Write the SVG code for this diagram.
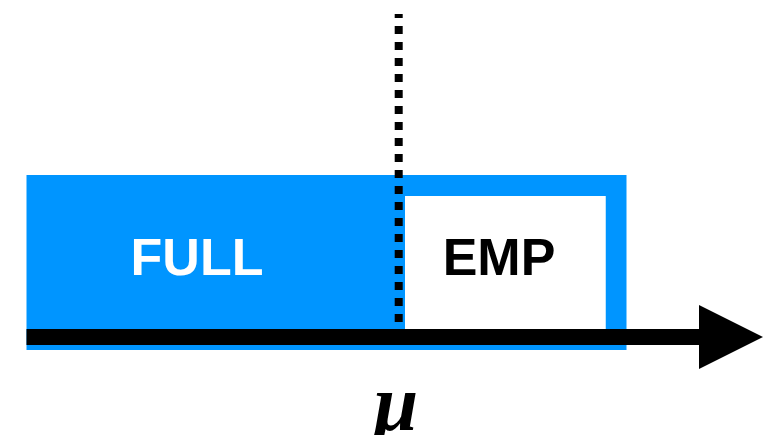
<svg xmlns="http://www.w3.org/2000/svg" width="764" height="435" viewBox="0 0 764 435">
  <style>
    .lbl { font-family: "Liberation Sans", Arial, sans-serif; font-weight: bold; font-size: 52px; text-anchor: middle; }
    .sym { font-family: "Liberation Serif", "Times New Roman", serif; font-weight: bold; font-style: italic; font-size: 80px; text-anchor: middle; }
  </style>
  <defs>
    <marker id="arrow" markerUnits="userSpaceOnUse" markerWidth="66" markerHeight="66" refX="0" refY="32" orient="auto">
      <path d="M0,0 L64,32 L0,64 Z" fill="#000"/>
    </marker>
  </defs>

  <!-- filled region -->
  <g id="full">
    <rect x="26.5" y="175" width="379" height="175" fill="#0095FF"/>
    <text class="lbl" x="197" y="275" fill="#fff">FULL</text>
  </g>

  <!-- empty region with blue frame -->
  <g id="emp">
    <path d="M395,175 H626.5 V350 H395 Z M405,196 V329 H605.5 V196 Z" fill="#0095FF" fill-rule="evenodd"/>
    <rect x="405" y="196" width="200.5" height="133" fill="#fff"/>
    <text class="lbl" x="499" y="275" fill="#000">EMP</text>
  </g>

  <g id="connectors">
    <!-- threshold marker -->
    <line x1="398.7" y1="14" x2="398.7" y2="330" stroke="#000" stroke-width="8" stroke-dasharray="8 8" stroke-dashoffset="4"/>
    <!-- axis -->
    <line x1="26.5" y1="337" x2="699" y2="337" stroke="#000" stroke-width="16" marker-end="url(#arrow)"/>
  </g>

  <g id="mu">
    <text class="sym" x="396" y="430">μ</text>
  </g>
</svg>
